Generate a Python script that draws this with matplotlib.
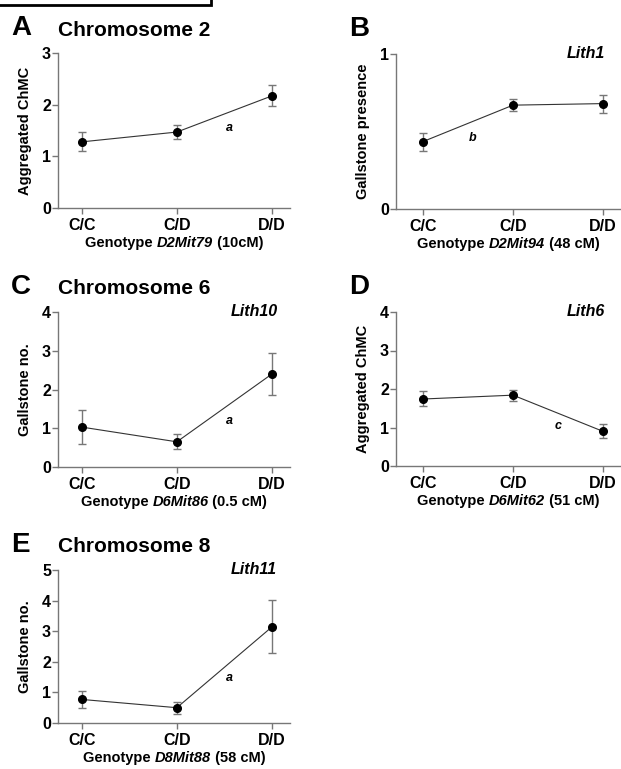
import matplotlib.pyplot as plt
from matplotlib.patches import Rectangle
from matplotlib.transforms import offset_copy

plt.rcParams['font.family'] = ['Liberation Sans', 'DejaVu Sans']
plt.rcParams['font.weight'] = 'bold'

genotypes = ["C/C", "C/D", "D/D"]

# panel A - chromosome 2, D2Mit79
a_mean = [1.28, 1.47, 2.17]
a_lo = [1.10, 1.33, 1.98]
a_hi = [1.47, 1.61, 2.38]

# panel B - Lith1, D2Mit94
b_mean = [0.435, 0.67, 0.68]
b_lo = [0.375, 0.63, 0.62]
b_hi = [0.49, 0.71, 0.735]

# panel C - Lith10, D6Mit86
c_mean = [1.03, 0.65, 2.40]
c_lo = [0.60, 0.47, 1.86]
c_hi = [1.47, 0.84, 2.95]

# panel D - Lith6, D6Mit62
d_mean = [1.74, 1.84, 0.90]
d_lo = [1.55, 1.70, 0.72]
d_hi = [1.95, 1.98, 1.08]

# panel E - Lith11, D8Mit88
e_mean = [0.77, 0.50, 3.14]
e_lo = [0.50, 0.31, 2.28]
e_hi = [1.04, 0.68, 4.01]

panels = [
    # letter, title, locus, ylabel, marker, cM, ymax, yticks, mean, lo, hi, sig, sig pos, rect
    ("A", "Chromosome 2", None, "Aggregated ChMC", "D2Mit79", "(10cM)", 3, [0, 1, 2, 3],
     a_mean, a_lo, a_hi, "a", (1.55, 1.55), [58, 53, 290, 208]),
    ("B", None, "Lith1", "Gallstone presence", "D2Mit94", "(48 cM)", 1, [0, 1],
     b_mean, b_lo, b_hi, "b", (0.55, 0.46), [396, 54, 621, 209]),
    ("C", "Chromosome 6", "Lith10", "Gallstone no.", "D6Mit86", "(0.5 cM)", 4, [0, 1, 2, 3, 4],
     c_mean, c_lo, c_hi, "a", (1.55, 1.18), [58, 312, 290, 467]),
    ("D", None, "Lith6", "Aggregated ChMC", "D6Mit62", "(51 cM)", 4, [0, 1, 2, 3, 4],
     d_mean, d_lo, d_hi, "c", (1.5, 1.04), [396, 312, 621, 466]),
    ("E", "Chromosome 8", "Lith11", "Gallstone no.", "D8Mit88", "(58 cM)", 5, [0, 1, 2, 3, 4, 5],
     e_mean, e_lo, e_hi, "a", (1.55, 1.47), [58, 570, 290, 723]),
]

W, H = 621, 769
fig = plt.figure(figsize=(W / 100, H / 100), dpi=100)
renderer = fig.canvas.get_renderer()

# cropped frame edge at top-left
fig.patches.append(Rectangle((-5 / W, 1 - 5 / H), 216 / W, 20 / H, transform=fig.transFigure,
                             fill=False, edgecolor="black", linewidth=2))


def genotype_label(ax, mk, cm, dy):
    # "Genotype " + italic marker + " (cM)", centred under the axes
    parts = [("Genotype ", "normal"), (mk, "italic"), (" " + cm, "normal")]
    texts = []
    for s, style in parts:
        t = fig.text(0, 0, s, fontsize=10.5, fontweight="bold", fontstyle=style,
                     ha="left", va="center")
        texts.append(t)
    widths = [t.get_window_extent(renderer).width for t in texts]
    bb = ax.get_position()
    cx = (bb.x0 + bb.x1) / 2 * W
    x = cx - sum(widths) / 2
    y = bb.y0 * H - dy
    for t, w in zip(texts, widths):
        t.set_position((x / W, y / H))
        x += w


grey = "#777777"
for (letter, title, locus, ylab, mk, cm, ymax, yt, mean, lo, hi, sig, sigpos, r) in panels:
    x0, y0, x1, y1 = r
    ax = fig.add_axes([x0 / W, 1 - y1 / H, (x1 - x0) / W, (y1 - y0) / H])
    xs = list(range(len(genotypes)))
    yerr = [[m - l for m, l in zip(mean, lo)], [h - m for m, h in zip(mean, hi)]]
    ax.plot(xs, mean, color="#333333", lw=0.8, zorder=2)
    ax.errorbar(xs, mean, yerr=yerr, fmt="none", ecolor=grey, elinewidth=1.0,
                capsize=3, capthick=1.0, zorder=1)
    ax.plot(xs, mean, "o", color="black", ms=5.5, zorder=3)
    ax.set_ylim(0, ymax)
    ax.set_yticks(yt)
    if letter in ("A", "C", "E"):
        ax.set_xlim(-0.25, 2.19)
    else:
        ax.set_xlim(-0.3, 2.2)
    ax.set_xticks(xs)
    ax.set_xticklabels(genotypes)
    for s in ("top", "right"):
        ax.spines[s].set_visible(False)
    for s in ("left", "bottom"):
        ax.spines[s].set_color(grey)
        ax.spines[s].set_linewidth(1.0)
    ax.tick_params(colors=grey, length=4, width=1.0, labelcolor="black", labelsize=11.5)
    ax.tick_params(axis="y", pad=1)
    ax.tick_params(axis="x", pad=3)
    for t in ax.get_xticklabels() + ax.get_yticklabels():
        t.set_fontweight("bold")
    ax.set_ylabel(ylab, fontsize=10.5, fontweight="bold", labelpad=7)
    genotype_label(ax, mk, cm, 35)
    ax.text(sigpos[0], sigpos[1], sig, fontsize=9, fontstyle="italic", fontweight="bold",
            ha="center", va="center")
    if locus:
        ax.text(1.81, ymax, locus, fontsize=11.5, fontstyle="italic", fontweight="bold",
                ha="center", va="center")
    fig.text((x0 - 47) / W, 1 - (y0 - 25) / H, letter, fontsize=20, fontweight="bold",
             ha="left", va="center")
    if title:
        fig.text(x0 / W, 1 - (y0 - 23) / H, title, fontsize=15, fontweight="bold",
                 ha="left", va="center")

fig.savefig("out.png", dpi=100)
